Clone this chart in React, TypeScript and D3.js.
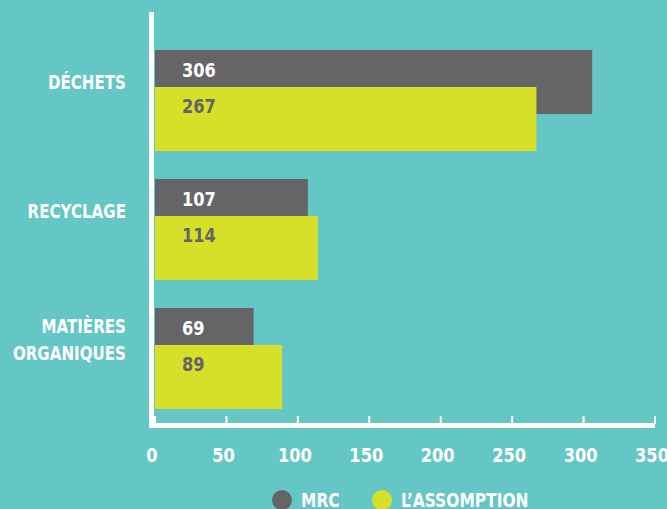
import * as d3 from "d3";

// categories (top to bottom) and the two series
const categories = ["DÉCHETS", "RECYCLAGE", "MATIÈRES ORGANIQUES"];
const mrcValues = [306, 107, 69];
const assomptionValues = [267, 114, 89];
const seriesNames = ["MRC", "L’ASSOMPTION"];
const xTicks = [0, 50, 100, 150, 200, 250, 300, 350];

const W = 667;
const H = 509;
const BG = "#64c6c5";
const GREY = "#656567";
const YELLOW = "#d6e029";
const FONT = "'DejaVu Sans Condensed', 'DejaVu Sans', sans-serif";

// condensed bold label, squeezed horizontally to mimic a DIN-like face
function Label({
  x,
  y,
  text,
  anchor = "start",
  fill = "#fff",
  size = 20,
  squeeze = 0.84,
}: {
  x: number;
  y: number;
  text: string | number;
  anchor?: "start" | "middle" | "end";
  fill?: string;
  size?: number;
  squeeze?: number;
}) {
  return (
    <text
      transform={`translate(${x},${y}) scale(${squeeze},1)`}
      textAnchor={anchor}
      fill={fill}
      fontFamily={FONT}
      fontWeight="bold"
      fontSize={size}
    >
      {text}
    </text>
  );
}

export default function App() {
  const x = d3.scaleLinear().domain([0, 350]).range([155, 655]);
  const y = d3
    .scaleBand<string>()
    .domain(categories)
    .range([50, 409])
    .paddingInner(0.217)
    .paddingOuter(0);

  const bw = y.bandwidth();
  const barH = bw * 0.634;
  const offset = bw - barH;
  const axisY = 426;

  const rows = categories.map((c, i) => ({
    cat: c,
    mrc: mrcValues[i],
    ass: assomptionValues[i],
  }));

  return (
    <svg
      width={W}
      height={H}
      style={{ position: "absolute", left: 0, top: 0, display: "block" }}
    >
      <rect width={W} height={H} fill={BG} />

      {rows.map((r) => {
        const y0 = y(r.cat)!;
        const lines = r.cat === "MATIÈRES ORGANIQUES" ? ["MATIÈRES", "ORGANIQUES"] : [r.cat];
        const cy = y0 + 32;
        return (
          <g key={r.cat}>
            <rect x={x(0)} y={y0} width={x(r.mrc) - x(0)} height={barH} fill={GREY} />
            <rect x={x(0)} y={y0 + offset} width={x(r.ass) - x(0)} height={barH} fill={YELLOW} />
            <Label x={x(0) + 27} y={y0 + 27} text={r.mrc} size={19} squeeze={0.95} />
            <Label x={x(0) + 27} y={y0 + offset + 26} text={r.ass} fill={GREY} size={19} squeeze={0.95} />
            {lines.map((l, j) => (
              <Label
                key={l}
                x={126}
                y={cy + 7 + (j - (lines.length - 1) / 2) * 27}
                text={l}
                anchor="end"
              />
            ))}
          </g>
        );
      })}

      {/* axes */}
      <rect x={149} y={12} width={5} height={axisY + 2 - 12} fill="#fff" />
      <rect x={149} y={axisY - 3} width={x(350) - 149} height={5} fill="#fff" />
      {xTicks.map((t) => (
        <g key={t}>
          <rect x={x(t) - 1} y={axisY - 10} width={2} height={8} fill="#fff" />
          <Label x={x(t) - 3} y={462} text={t} anchor="middle" size={19} squeeze={0.95} />
        </g>
      ))}

      {/* legend */}
      {seriesNames.map((s, i) => {
        const lx = i === 0 ? 282 : 382;
        return (
          <g key={s}>
            <circle cx={lx} cy={500} r={10} fill={i === 0 ? GREY : YELLOW} />
            <Label x={lx + 19} y={507} text={s} squeeze={0.86} />
          </g>
        );
      })}
    </svg>
  );
}
